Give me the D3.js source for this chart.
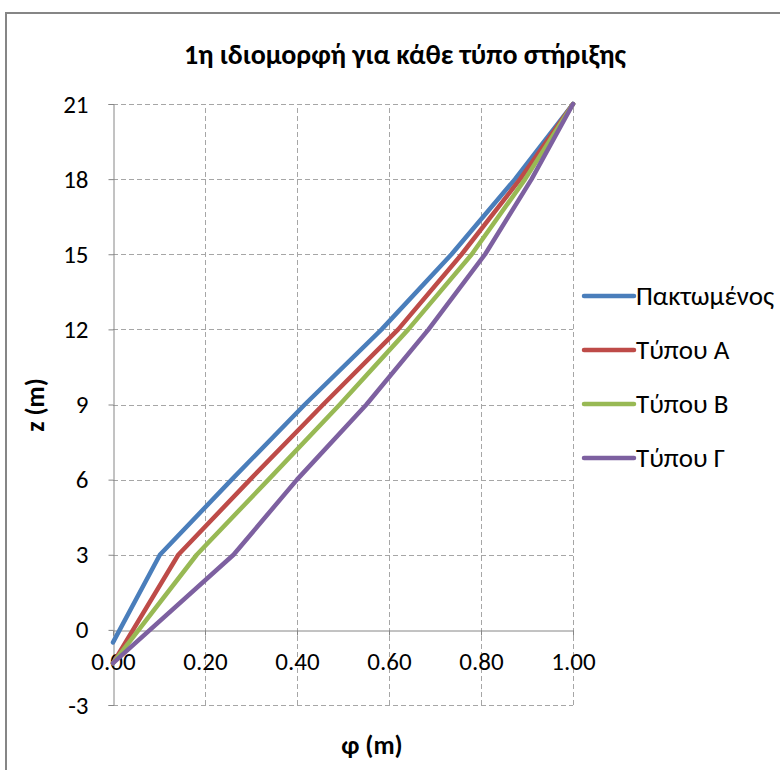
<!DOCTYPE html>
<html><head><meta charset="utf-8">
<script src="https://cdn.jsdelivr.net/npm/d3@7"></script>
<style>body{margin:0;background:#fff}svg{display:block}text{font-family:Carlito,"Liberation Sans Narrow","Noto Sans",sans-serif;fill:#000}</style>
</head><body>
<svg id="c" width="780" height="770"></svg>
<script>
const title = "1η ιδιομορφή για κάθε τύπο στήριξης";
const xLabel = "φ (m)";
const yLabel = "z (m)";
const seriesNames = ["Πακτωμένος", "Τύπου Α", "Τύπου Β", "Τύπου Γ"];
const seriesColors = ["#4A7EBB", "#BE4B48", "#98B954", "#7D60A0"];
const zFixed = [-0.5, 3, 6, 9, 12, 15, 18, 21];
const phiFixed = [0, 0.102, 0.258, 0.417, 0.584, 0.736, 0.874, 1.0];
const zSpring = [-1.33, 3, 6, 9, 12, 15, 18, 21];
const phiA = [0, 0.142, 0.298, 0.457, 0.620, 0.758, 0.885, 1.0];
const phiB = [0, 0.182, 0.338, 0.493, 0.642, 0.780, 0.896, 1.0];
const phiG = [0, 0.262, 0.400, 0.551, 0.686, 0.809, 0.910, 1.0];
const xTicks = [0, 0.2, 0.4, 0.6, 0.8, 1.0];
const yTicks = [-3, 0, 3, 6, 9, 12, 15, 18, 21];

const series = [
  {name: seriesNames[0], color: seriesColors[0], z: zFixed, phi: phiFixed},
  {name: seriesNames[1], color: seriesColors[1], z: zSpring, phi: phiA},
  {name: seriesNames[2], color: seriesColors[2], z: zSpring, phi: phiB},
  {name: seriesNames[3], color: seriesColors[3], z: zSpring, phi: phiG}
];

const svg = d3.select("#c");
svg.append("rect").attr("x", 6).attr("y", 13).attr("width", 800).attr("height", 800)
  .attr("fill", "#fff").attr("stroke", "#868686").attr("stroke-width", 2);

const x = d3.scaleLinear().domain([0, 1]).range([113, 573]);
const y = d3.scaleLinear().domain([-3, 21]).range([705, 104]);

// gridlines
const grid = svg.append("g").attr("stroke", "#a6a6a6").attr("stroke-width", 1).attr("stroke-dasharray", "5,3");
grid.selectAll("line.h").data(yTicks.filter(d => d !== 0)).join("line")
  .attr("x1", x(0)).attr("x2", x(1)).attr("y1", d => Math.round(y(d)) + 0.5).attr("y2", d => Math.round(y(d)) + 0.5);
grid.selectAll("line.v").data(xTicks.filter(d => d !== 0)).join("line")
  .attr("y1", y(-3)).attr("y2", y(21)).attr("x1", d => Math.round(x(d)) + 0.5).attr("x2", d => Math.round(x(d)) + 0.5);

// axes
const yAxis = d3.axisLeft(y).tickValues(yTicks).tickFormat(d => String(d)).tickSize(5).tickPadding(20);
const gy = svg.append("g").attr("transform", `translate(${Math.round(x(0)) + 0.5},0)`).call(yAxis);
gy.select(".domain").attr("stroke", "#868686");
gy.selectAll(".tick line").attr("stroke", "#868686");
gy.selectAll("text").attr("font-size", 25).attr("font-family", null);

const xAxis = d3.axisBottom(x).tickValues(xTicks).tickFormat(d3.format(".2f")).tickSize(5).tickPadding(17);
const gx = svg.append("g").attr("transform", `translate(0,${Math.round(y(0)) + 0.5})`).call(xAxis);
gx.select(".domain").attr("stroke", "#868686");
gx.selectAll(".tick line").attr("stroke", "#868686");
gx.selectAll("text").attr("font-size", 25).attr("font-family", null);

// lines
const line = d3.line().x(d => x(d[0])).y(d => y(d[1]));
svg.append("g").selectAll("path").data(series).join("path")
  .attr("d", s => line(s.phi.map((p, i) => [p, s.z[i]])))
  .attr("fill", "none").attr("stroke", s => s.color).attr("stroke-width", 4.5)
  .attr("stroke-linejoin", "round").attr("stroke-linecap", "round");

// title & labels
svg.append("text").attr("x", 405).attr("y", 64).attr("text-anchor", "middle")
  .attr("font-size", 28).attr("font-weight", "bold").text(title);
svg.append("text").attr("x", 372).attr("y", 754).attr("text-anchor", "middle")
  .attr("font-size", 26).attr("font-weight", "bold").text(xLabel);
svg.append("text").attr("transform", "translate(44,405) rotate(-90)").attr("text-anchor", "middle")
  .attr("font-size", 26).attr("font-weight", "bold").text(yLabel);

// legend
const lg = svg.append("g").selectAll("g").data(series).join("g")
  .attr("transform", (d, i) => `translate(584,${296 + i * 54})`);
lg.append("line").attr("x1", 0).attr("x2", 50).attr("stroke", d => d.color).attr("stroke-width", 4.5).attr("stroke-linecap", "round");
lg.append("text").attr("x", 52).attr("y", 9).attr("font-size", 27).text(d => d.name);
</script>
</body></html>
